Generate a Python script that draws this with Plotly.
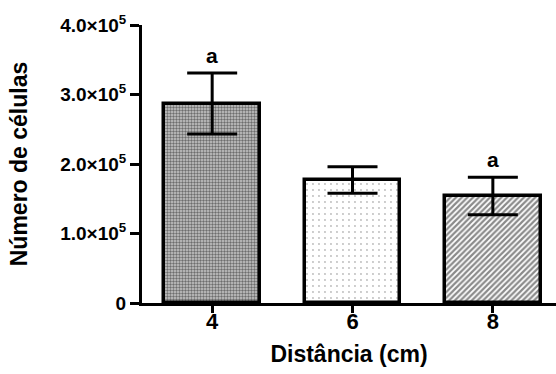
import plotly.graph_objects as go

distances = ["4", "6", "8"]
cell_means = [2.87e5, 1.77e5, 1.54e5]
cell_sd = [0.44e5, 0.19e5, 0.27e5]
letters = ["a", "", "a"]
y_tick_values = [0, 1.0e5, 2.0e5, 3.0e5, 4.0e5]
y_tick_labels = ["0", "1.0×10<sup>5</sup>", "2.0×10<sup>5</sup>",
                 "3.0×10<sup>5</sup>", "4.0×10<sup>5</sup>"]

positions = list(range(len(distances)))

patterns = [
    dict(shape=".", fgcolor="#111111", bgcolor="#c8c8c8", size=3, solidity=0.5),
    dict(shape=".", fgcolor="#777777", bgcolor="#ffffff", size=6, solidity=0.08),
    dict(shape="/", fgcolor="#151515", bgcolor="#ffffff", size=4, solidity=0.55),
]

fig = go.Figure()
for i, pos in enumerate(positions):
    fig.add_trace(go.Bar(
        x=[pos], y=[cell_means[i]],
        width=0.68,
        marker=dict(color="white", pattern=patterns[i],
                    line=dict(color="black", width=3.5)),
        error_y=dict(type="data", array=[cell_sd[i]], visible=True,
                     color="black", thickness=3, width=25),
        showlegend=False,
        hoverinfo="skip",
    ))

for i, pos in enumerate(positions):
    if letters[i]:
        fig.add_annotation(x=pos, y=cell_means[i] + cell_sd[i],
                           text=letters[i], showarrow=False,
                           yanchor="bottom", yshift=4,
                           font=dict(family="Liberation Sans, Arial", size=21,
                                     color="black", weight="bold"))

fig.update_layout(
    width=556, height=374,
    margin=dict(l=142, r=0, t=25, b=71),
    plot_bgcolor="white", paper_bgcolor="white",
    font=dict(family="Liberation Sans, Arial", color="black", weight="bold"),
    bargap=0,
)

fig.update_xaxes(
    range=[-0.5, 2.45],
    tickvals=positions, ticktext=distances,
    ticks="outside", ticklen=7, tickwidth=2.5, tickcolor="black",
    ticklabelstandoff=-10,
    showline=True, linecolor="black", linewidth=2.5,
    showgrid=False, zeroline=False,
    tickfont=dict(size=22, weight="bold"),
    title=dict(text="Distância (cm)", font=dict(size=23, weight="bold"),
               standoff=13),
)

fig.update_yaxes(
    range=[0, 4.0e5],
    tickvals=y_tick_values, ticktext=y_tick_labels,
    ticks="outside", ticklen=9, tickwidth=2.5, tickcolor="black",
    ticklabelstandoff=0,
    showline=True, linecolor="black", linewidth=3,
    showgrid=False, zeroline=False,
    tickfont=dict(size=19, weight="bold"),
    title=dict(text="Número de células", font=dict(size=23, weight="bold"),
               standoff=27),
)

fig.write_html("out.html")
